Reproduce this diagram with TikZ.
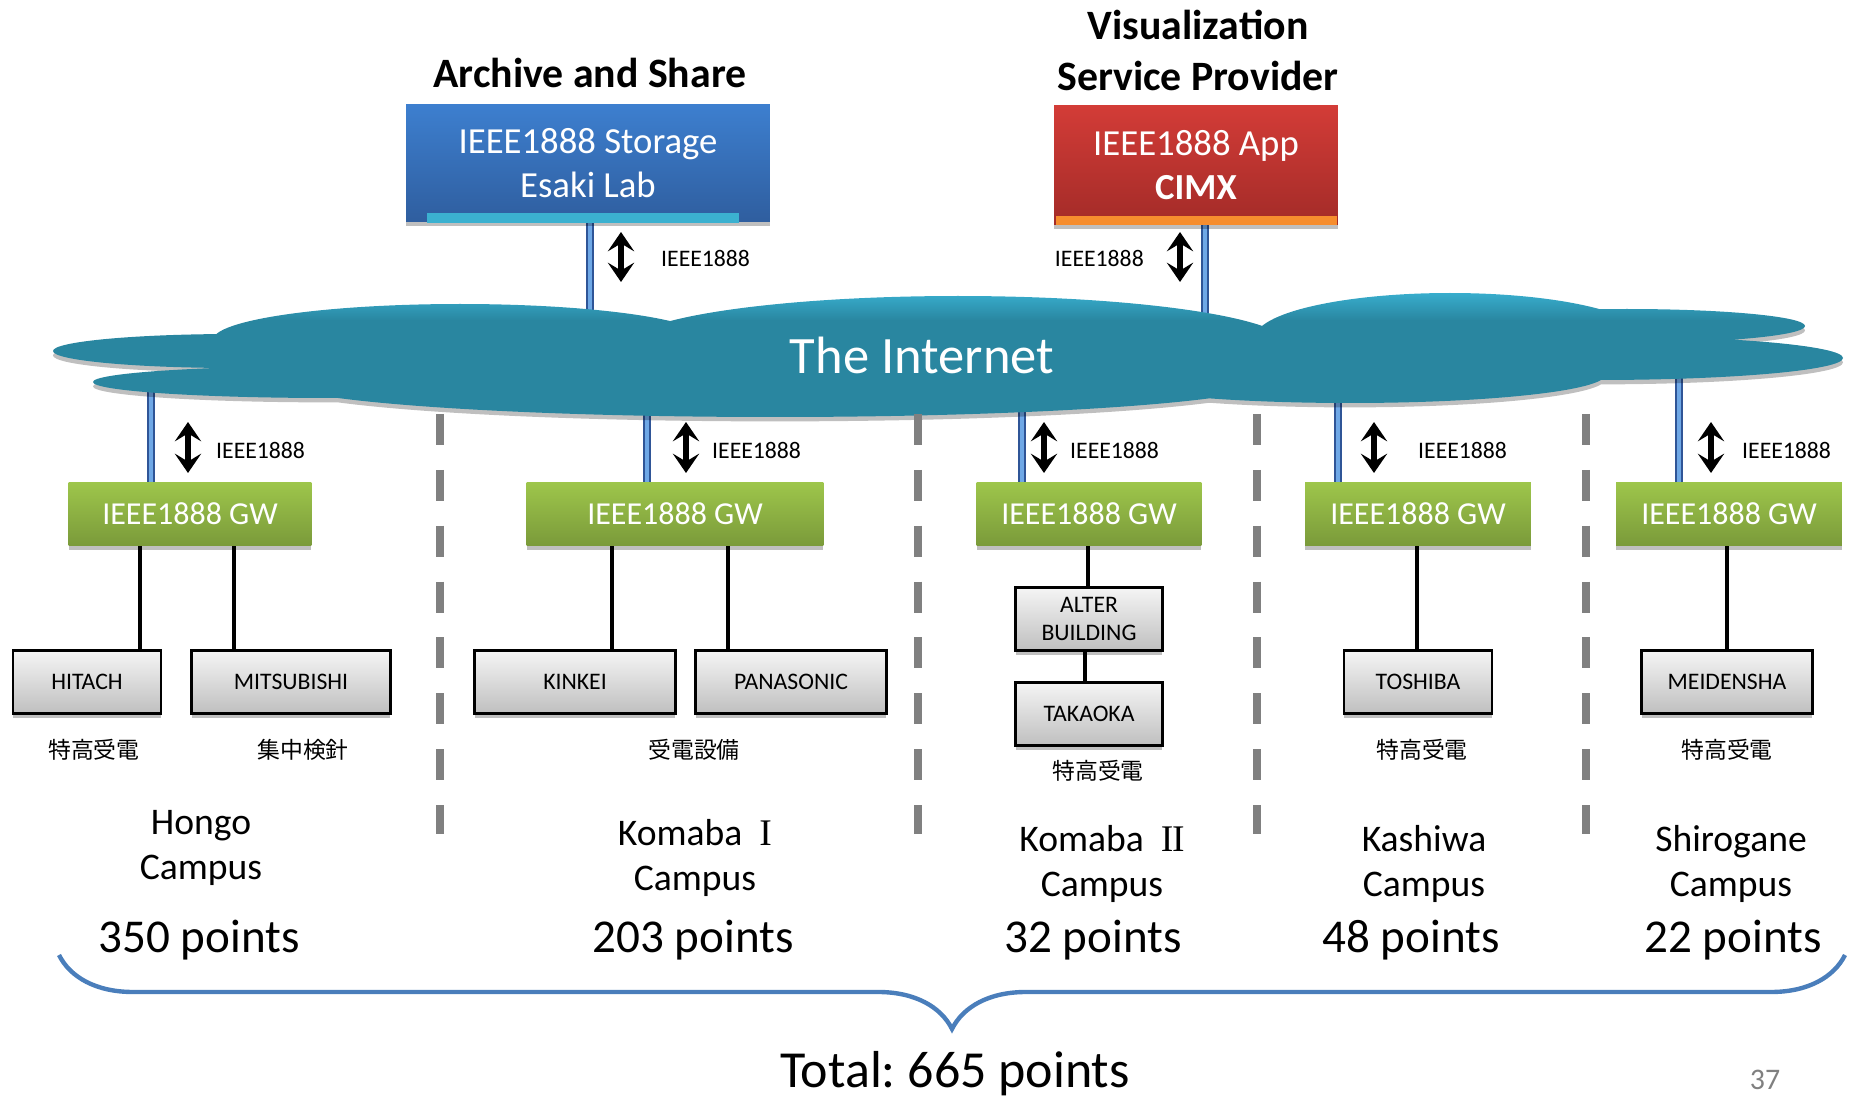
\documentclass[tikz,border=0pt]{standalone}
\usepackage{fontspec}
\setmainfont{Carlito}
\newfontfamily\jp{Noto Sans CJK JP}
\newfontfamily\romfont{Liberation Serif}
\frenchspacing
\usetikzlibrary{arrows.meta,shadows,backgrounds,decorations.pathreplacing}
\definecolor{stortop}{HTML}{3D7FCF}
\definecolor{storbot}{HTML}{2F5E9F}
\definecolor{storbar}{HTML}{3BB1D0}
\definecolor{apptop}{HTML}{D33C37}
\definecolor{appbot}{HTML}{A32B28}
\definecolor{appbar}{HTML}{F68D2E}
\definecolor{gwtop}{HTML}{9EC64B}
\definecolor{gwbot}{HTML}{7A9A3A}
\definecolor{cloudhi}{HTML}{38ADCD}
\definecolor{cloudlo}{HTML}{2986A0}
\definecolor{pipedark}{HTML}{2F5597}
\definecolor{pipelight}{HTML}{6FA8E6}
\definecolor{bracecol}{HTML}{4A7EBB}
\definecolor{divgray}{HTML}{808080}
\pgfdeclareverticalshading{cloudsh}{100bp}{color(0bp)=(cloudlo); color(25bp)=(cloudlo);
  color(64bp)=(cloudlo); color(75bp)=(cloudhi); color(100bp)=(cloudhi)}

\begin{document}
\begin{tikzpicture}[x=0.02cm,y=-0.02cm,>=latex,
  shade/.style={drop shadow={shadow xshift=0pt,shadow yshift=-2.5pt,opacity=.25,fill=black}},
  title/.style={font=\fontsize{23.8pt}{29pt}\selectfont\bfseries,align=center},
  srv/.style={shade,inner sep=0pt,text=white,align=center,font=\fontsize{20.9pt}{25.5pt}\selectfont},
  gw/.style={shade,inner sep=0pt,minimum height=1.28cm,top color=gwtop,bottom color=gwbot,
    text=white,font=\fontsize{18.2pt}{22pt}\selectfont},
  dev/.style={shade,draw=black,line width=1.4pt,inner sep=0pt,minimum height=1.26cm,
    top color=white!96!black,bottom color=white!75!black,align=center,
    font=\fontsize{13.5pt}{16.4pt}\selectfont},
  lbl/.style={anchor=west,font=\fontsize{13.5pt}{16pt}\selectfont},
  jlab/.style={font=\jp\fontsize{13pt}{16pt}\selectfont},
  camp/.style={align=center,font=\fontsize{21.4pt}{25.5pt}\selectfont},
  pts/.style={font=\fontsize{26.8pt}{32pt}\selectfont},
  pipe/.style={draw=pipedark,line width=4.4pt,postaction={draw=pipelight,line width=2.4pt}},
  wire/.style={draw=black,line width=2.8pt},
  updown/.style={{Stealth[length=11pt,width=15pt,inset=4.5pt]}-{Stealth[length=11pt,width=15pt,inset=4.5pt]},line width=3.6pt},
  divider/.style={draw=divgray,line width=4pt,dash pattern=on 17.6pt off 14.2pt}]
\useasboundingbox (0,0) rectangle (1854,1098);

\node[title] (arch) at (590,73) {Archive and Share};
\node[title] (vis) at (1198,50) {Visualization\\Service Provider};

\node[srv,minimum width=7.28cm,minimum height=2.34cm,top color=stortop,bottom color=storbot] (stor) at (588,163) {IEEE1888 Storage\\Esaki Lab};
\fill[storbar] (427,213) rectangle (739,223);
\node[srv,minimum width=5.68cm,minimum height=2.4cm,top color=apptop,bottom color=appbot] (app) at (1196,165) {IEEE1888 App\\\textbf{CIMX}};
\fill[appbar] (1056,216) rectangle (1337,225);

\coordinate (tap0) at (590,330);
\coordinate (tapa) at (1205,320);
\coordinate (tap1) at (151,385);
\coordinate (tap2) at (647,400);
\coordinate (tap3) at (1022,400);
\coordinate (tap4) at (1338,395);
\coordinate (tap5) at (1679,370);

\path[shade,shading=cloudsh]
  (235,351) ellipse [x radius=182,y radius=17]
  (330,382) ellipse [x radius=237,y radius=16]
  (460,340) ellipse [x radius=247,y radius=36]
  (775,380) ellipse [x radius=500,y radius=37]
  (958,346) ellipse [x radius=332,y radius=50]
  (1450,338) ellipse [x radius=195,y radius=45]
  (1627,326) ellipse [x radius=178,y radius=17]
  (1597,358) ellipse [x radius=246,y radius=22]
  (1350,375) ellipse [x radius=255,y radius=28];
\node[text=white,font=\fontsize{29.9pt}{36pt}\selectfont] (inet) at (922,355) {The Internet};

\node[gw,minimum width=4.86cm] (gw1) at (190,514) {IEEE1888 GW};
\node[gw,minimum width=5.94cm] (gw2) at (675,514) {IEEE1888 GW};
\node[gw,minimum width=4.5cm] (gw3) at (1089,514) {IEEE1888 GW};
\node[gw,minimum width=4.52cm] (gw4) at (1418,514) {IEEE1888 GW};
\node[gw,minimum width=4.52cm] (gw5) at (1729,514) {IEEE1888 GW};

\begin{scope}[on background layer]
\draw[pipe] (stor.south -| tap0) -- (tap0);
\draw[pipe] (app.south -| tapa) -- (tapa);
\foreach \i in {1,...,5}
  \draw[pipe] (tap\i) -- (gw\i.north -| tap\i);
\end{scope}

\node[lbl] (laba) at (655,258) {IEEE1888};
\node[lbl,anchor=east] (labb) at (1150,258) {IEEE1888};
\coordinate (upa) at (621,232);
\coordinate (dna) at (621,282);
\coordinate (upb) at (1180,232);
\coordinate (dnb) at (1180,282);
\draw[updown] (upa) -- (dna);
\draw[updown] (upb) -- (dnb);
\foreach \ax/\lx/\n in {188/210/1,686/706/2,1044/1064/3,1374/1412/4,1711/1736/5}{
  \node[lbl] (lab\n) at (\lx,450) {IEEE1888};
  \coordinate (up\n) at (\ax,422);
  \coordinate (dn\n) at (\ax,473);
  \draw[updown] (up\n) -- (dn\n);
}

\foreach \x in {440,918,1257,1586}
  \draw[divider] (\x,414) -- (\x,834);

\node[dev,minimum width=2.96cm] (hit) at (87,682) {HITACH};
\node[dev,minimum width=3.98cm] (mit) at (291,682) {MITSUBISHI};
\node[dev,minimum width=4.02cm] (kin) at (575,682) {KINKEI};
\node[dev,minimum width=3.82cm] (pan) at (791,682) {PANASONIC};
\node[dev,minimum width=2.94cm] (alt) at (1089,619) {ALTER\\BUILDING};
\node[dev,minimum width=2.94cm] (tak) at (1089,714) {TAKAOKA};
\node[dev,minimum width=2.96cm] (tos) at (1418,682) {TOSHIBA};
\node[dev,minimum width=3.42cm] (mei) at (1727,682) {MEIDENSHA};

\draw[wire] (gw1.south -| 140,0) -- (hit.north -| 140,0);
\draw[wire] (gw1.south -| 234,0) -- (mit.north -| 234,0);
\draw[wire] (gw2.south -| 612,0) -- (kin.north -| 612,0);
\draw[wire] (gw2.south -| 728,0) -- (pan.north -| 728,0);
\draw[wire] (gw3.south -| 1088,0) -- (alt.north -| 1088,0);
\draw[wire] (alt.south -| 1085,0) -- (tak.north -| 1085,0);
\draw[wire] (gw4.south -| 1417,0) -- (tos.north -| 1417,0);
\draw[wire] (gw5.south -| 1727,0) -- (mei.north -| 1727,0);

\node[jlab] (j1) at (94,750) {特高受電};
\node[jlab] (j2) at (303,750) {集中検針};
\node[jlab] (j3) at (694,750) {受電設備};
\node[jlab] (j4) at (1098,771) {特高受電};
\node[jlab] (j5) at (1422,750) {特高受電};
\node[jlab] (j6) at (1727,750) {特高受電};

\node[camp] (hongo) at (201,848) {Hongo\\Campus};
\node[camp] (koma1) at (695,858) {Komaba\ \ {\romfont I}\\Campus};
\node[camp] (koma2) at (1102,864) {Komaba\ \ {\romfont I\kern-.04em I}\\Campus};
\node[camp] (kashi) at (1424,864) {Kashiwa\\Campus};
\node[camp] (shiro) at (1731,864) {Shirogane\\Campus};

\node[pts] (p1) at (199,940) {350 points};
\node[pts] (p2) at (693,940) {203 points};
\node[pts] (p3) at (1093,940) {32 points};
\node[pts] (p4) at (1411,940) {48 points};
\node[pts] (p5) at (1733,940) {22 points};

\draw[bracecol,line width=2.5pt,decorate,decoration={brace,mirror,amplitude=1.48cm}] (59,955) -- (1845,955);

\node[font=\fontsize{29.6pt}{35pt}\selectfont] (total) at (955,1074) {Total: 665 points};
\node[text=gray,font=\fontsize{17pt}{20pt}\selectfont] (pg) at (1765,1080) {37};
\end{tikzpicture}
\end{document}
